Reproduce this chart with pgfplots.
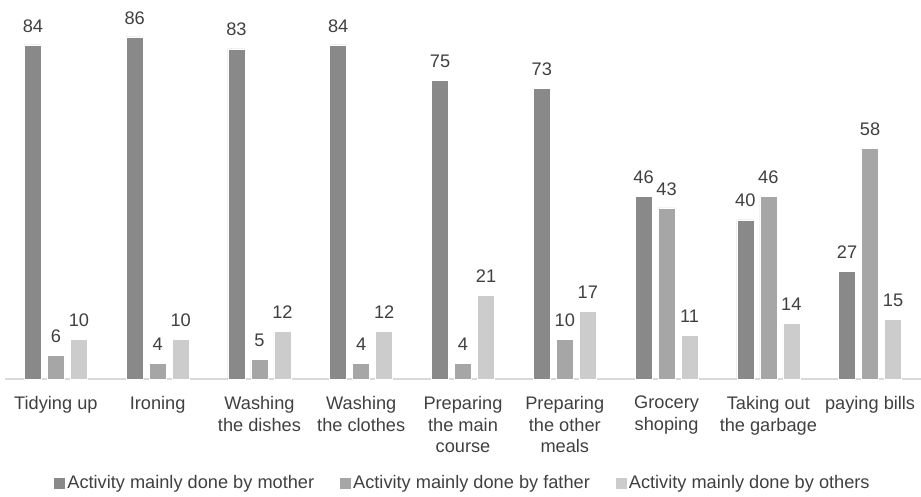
\documentclass[border=0pt]{standalone}
\usepackage{pgfplots}
\pgfplotsset{compat=1.18}
\usepackage{fontspec}
\setmainfont{Liberation Sans}
\definecolor{cmother}{HTML}{898989}
\definecolor{cfather}{HTML}{A6A6A6}
\definecolor{cothers}{HTML}{CCCCCC}
\definecolor{ctext}{HTML}{404040}
\definecolor{caxis}{HTML}{D9D9D9}
\begin{document}
\begin{tikzpicture}
\begin{axis}[
  scale only axis,
  width=916pt, height=379pt,
  ymin=0, ymax=95.3,
  xmin=-0.5, xmax=8.5,
  ybar=6pt, bar width=17pt,
  axis x line=bottom,
  hide y axis,
  axis line style={draw=caxis, line width=1.2pt, -},
  xtick=data,
  xticklabels={Tidying up, Ironing, Washing\\the dishes, Washing\\the clothes, Preparing\\the main\\course, Preparing\\the other\\meals, Grocery\\shoping, Taking out\\the garbage, paying bills},
  major tick length=0pt,
  xticklabel style={align=center, anchor=north, inner sep=0pt, yshift=-17pt, font=\fontsize{18.2}{21.8}\selectfont, text=ctext},
  clip=false,
  /pgf/number format/assume math mode=true,
  nodes near coords,
  every node near coord/.append style={anchor=south, inner sep=0pt, yshift=12.5pt, font=\fontsize{18.2}{21}\selectfont, text=ctext},
  legend columns=3,
  legend style={at={(0.5,-0.2744)}, anchor=center, draw=none, fill=none, font=\fontsize{18.2}{21}\selectfont, text=ctext,
    /tikz/every even column/.append style={column sep=24pt}, nodes={inner sep=2pt}},
  legend image code/.code={\fill[#1,draw=none] (0pt,-5.5pt) rectangle (11pt,5.5pt);},
  legend cell align=left,
]
\addplot[fill=cmother, draw=white, line width=0.5pt] coordinates {(0,84) (1,86) (2,83) (3,84) (4,75) (5,73) (6,46) (7,40) (8,27)};
\addplot[fill=cfather, draw=white, line width=0.5pt] coordinates {(0,6) (1,4) (2,5) (3,4) (4,4) (5,10) (6,43) (7,46) (8,58)};
\addplot[fill=cothers, draw=white, line width=0.5pt] coordinates {(0,10) (1,10) (2,12) (3,12) (4,21) (5,17) (6,11) (7,14) (8,15)};
\legend{Activity mainly done by mother, Activity mainly done by father, Activity mainly done by others}
\end{axis}
\pgfresetboundingbox
\path (-5pt,-117pt) rectangle (916pt,379pt);
\end{tikzpicture}
\end{document}
